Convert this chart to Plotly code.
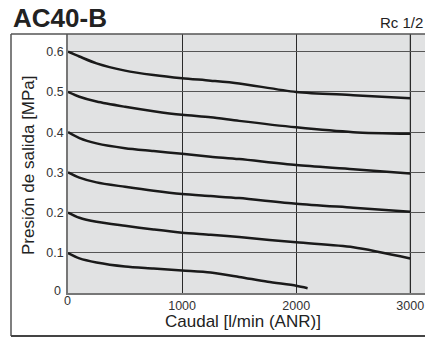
import plotly.graph_objects as go

# ---- data ----
flow = [0, 100, 250, 500, 750, 1000, 1250, 1500, 2000, 2500, 3000]
p_06 = [0.600, 0.588, 0.571, 0.553, 0.542, 0.534, 0.528, 0.521, 0.500, 0.492, 0.484]
p_05 = [0.500, 0.488, 0.476, 0.463, 0.452, 0.443, 0.437, 0.428, 0.412, 0.400, 0.396]
p_04 = [0.400, 0.385, 0.372, 0.360, 0.353, 0.346, 0.339, 0.333, 0.318, 0.308, 0.297]
p_03 = [0.300, 0.287, 0.275, 0.264, 0.254, 0.246, 0.241, 0.236, 0.222, 0.212, 0.202]
p_02 = [0.200, 0.187, 0.177, 0.167, 0.158, 0.150, 0.145, 0.139, 0.126, 0.114, 0.086]
flow_01 = [0, 100, 250, 500, 750, 1000, 1250, 1500, 1750, 2000, 2100]
p_01 = [0.099, 0.086, 0.076, 0.066, 0.061, 0.056, 0.051, 0.040, 0.028, 0.018, 0.012]

y_ticks = [0.1, 0.2, 0.3, 0.4, 0.5, 0.6]
y_tick_text = ["0.1", "0.2", "0.3", "0.4", "0.5", "0.6"]
x_ticks = [1000, 2000, 3000]
x_tick_text = ["1000", "2000", "3000"]

title = "AC40-B"
port = "Rc 1/2"
x_title = "Caudal [l/min (ANR)]"
y_title = "Presión de salida [MPa]"

# ---- layout geometry (pixels) ----
W, H = 425, 338
L, R, T, B = 68, 0, 34, 45
PW, PH = W - L - R, H - T - B

def px(x):
    return (x - L) / PW

def py(y):
    return (H - B - y) / PH

FONT = "Liberation Sans, Arial, Helvetica, sans-serif"
TXT = "#222222"

fig = go.Figure()
series = [(flow, p_06), (flow, p_05), (flow, p_04), (flow, p_03), (flow, p_02), (flow_01, p_01)]
for xs, ys in series:
    fig.add_trace(go.Scatter(
        x=xs, y=ys, mode="lines",
        line=dict(color="#1a1a1a", width=2.5, shape="spline", smoothing=0.8),
        showlegend=False, hoverinfo="skip"))

shapes = [
    # vertical line at 3000 (lighter)
    dict(type="line", xref="x", yref="paper", x0=3000, x1=3000, y0=0, y1=1,
         line=dict(color="#808080", width=1.5), layer="below"),
    # outer frame
    dict(type="line", xref="paper", yref="paper", x0=px(11), x1=1.0, y0=1, y1=1,
         line=dict(color="#555555", width=1.5)),
    dict(type="line", xref="paper", yref="paper", x0=px(11), x1=px(11), y0=1, y1=py(336),
         line=dict(color="#555555", width=1.5)),
    dict(type="line", xref="paper", yref="paper", x0=px(11), x1=1.0, y0=py(336), y1=py(336),
         line=dict(color="#444444", width=1.8)),
]

annotations = [
    dict(text="<b>" + title + "</b>", xref="paper", yref="paper", x=px(11), y=py(18),
         xanchor="left", yanchor="middle", showarrow=False,
         font=dict(family=FONT, size=26, color=TXT)),
    dict(text=port, xref="paper", yref="paper", x=px(425), y=py(22),
         xanchor="right", yanchor="middle", showarrow=False,
         font=dict(family=FONT, size=15, color=TXT)),
    dict(text=x_title, xref="paper", yref="paper", x=px(243), y=py(321),
         xanchor="center", yanchor="middle", showarrow=False,
         font=dict(family=FONT, size=17, color=TXT)),
    dict(text=y_title, xref="paper", yref="paper", x=px(28), y=py(165),
         xanchor="center", yanchor="middle", showarrow=False, textangle=-90,
         font=dict(family=FONT, size=17, color=TXT)),
    dict(text="0", xref="paper", yref="paper", x=px(57), y=py(291),
         xanchor="center", yanchor="middle", showarrow=False,
         font=dict(family=FONT, size=12.5, color="#333333")),
    dict(text="0", xref="paper", yref="paper", x=px(67), y=py(301),
         xanchor="center", yanchor="middle", showarrow=False,
         font=dict(family=FONT, size=12.5, color="#333333")),
]

fig.update_layout(
    width=W, height=H,
    margin=dict(l=L, r=R, t=T, b=B, pad=0),
    paper_bgcolor="white",
    plot_bgcolor="#e1e2e3",
    shapes=shapes,
    annotations=annotations,
    xaxis=dict(range=[0, 3129], tickvals=x_ticks, ticktext=x_tick_text,
               showgrid=True, gridcolor="#2a2a2a", gridwidth=1.2,
               zeroline=False, showline=True, linecolor="#777777", linewidth=1.5,
               ticks="", ticklabelstandoff=0,
               tickfont=dict(family=FONT, size=12.5, color="#333333"),
               fixedrange=True),
    yaxis=dict(range=[0, 0.644], tickvals=y_ticks, ticktext=y_tick_text,
               showgrid=True, gridcolor="#555555", gridwidth=1.2,
               zeroline=False, showline=True, linecolor="#777777", linewidth=1.5,
               ticks="", ticklabelstandoff=0,
               tickfont=dict(family=FONT, size=12.5, color="#333333"),
               fixedrange=True),
)

fig.write_html("out.html", config={"displayModeBar": False},
               post_script="document.body.style.margin='0px';")
